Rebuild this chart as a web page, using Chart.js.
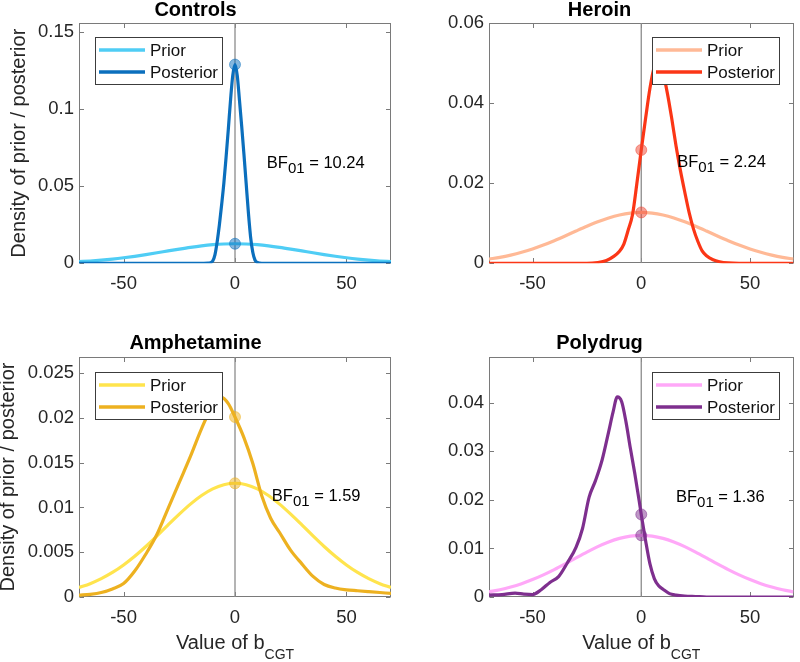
<!DOCTYPE html>
<html>
<head>
<meta charset="utf-8">
<script src="https://cdn.jsdelivr.net/npm/chart.js@4.4.0/dist/chart.umd.min.js"></script>
<style>
  body { margin: 0; background: #fff; }
  #fig { position: relative; width: 800px; height: 662px; overflow: hidden; }
  .panel { position: absolute; width: 400px; height: 331px; }
</style>
</head>
<body>
<div id="fig">
  <div class="panel" style="left:0;top:0"><canvas id="c0" width="400" height="331"></canvas></div>
  <div class="panel" style="left:400px;top:0"><canvas id="c1" width="400" height="331"></canvas></div>
  <div class="panel" style="left:0;top:331px"><canvas id="c2" width="400" height="331"></canvas></div>
  <div class="panel" style="left:400px;top:331px"><canvas id="c3" width="400" height="331"></canvas></div>
</div>
<script>
// ---- data ----
const titles = ['Controls', 'Heroin', 'Amphetamine', 'Polydrug'];
const bfValues = ['10.24', '2.24', '1.59', '1.36'];
const xTicks = [-50, 0, 50];
const yMax = [0.156, 0.06, 0.0268, 0.0494];
const yTicks = [
  [0, 0.05, 0.1, 0.15],
  [0, 0.02, 0.04, 0.06],
  [0, 0.005, 0.01, 0.015, 0.02, 0.025],
  [0, 0.01, 0.02, 0.03, 0.04]
];

// prior is the same in every panel
const priorX = [-70, -65, -60, -55, -50, -45, -40, -35, -30, -25, -20, -15, -10, -5, 0,
                5, 10, 15, 20, 25, 30, 35, 40, 45, 50, 55, 60, 65, 70];
const priorY = [0.00106, 0.00149, 0.00205, 0.00274, 0.00358, 0.00455, 0.00564, 0.00682, 0.00805,
                0.00925, 0.01037, 0.01133, 0.01207, 0.01254, 0.0127,
                0.01254, 0.01207, 0.01133, 0.01037, 0.00925, 0.00805, 0.00682, 0.00564, 0.00455,
                0.00358, 0.00274, 0.00205, 0.00149, 0.00106];

const controlsPostX = [-70, -14, -12, -11, -10, -9, -8, -7, -6, -5, -4, -3, -2, -1, 0,
                       1, 2, 3, 4, 5, 6, 7, 8, 9, 10, 11, 12, 14, 70];
const controlsPostY = [0, 0, 0.0001, 0.0004, 0.0015, 0.0055, 0.014, 0.025, 0.038, 0.052, 0.069, 0.087, 0.106, 0.122, 0.129,
                       0.122, 0.106, 0.089, 0.071, 0.052, 0.033, 0.017, 0.007, 0.002, 0.0006, 0.0001, 0, 0, 0];

const heroinPostX = [-70, -25, -20, -16, -13, -10, -8, -6, -4, -2, 0, 2, 4, 6, 8, 10, 12, 14, 16, 18,
                     20, 22, 24, 26, 28, 30, 33, 36, 40, 45, 70];
const heroinPostY = [0, 0, 0.0002, 0.0007, 0.0016, 0.003, 0.0048, 0.0083, 0.0122, 0.020, 0.0283, 0.0362,
                     0.0437, 0.049, 0.050, 0.0475, 0.0425, 0.0362, 0.0293, 0.0232, 0.0178, 0.0127, 0.0086,
                     0.0055, 0.0031, 0.0019, 0.0009, 0.0004, 0.0001, 0, 0];

const amphPostX = [-70, -65, -60, -55, -50, -45, -40, -35, -30, -25, -20, -15, -10, -6, -3, 0,
                   4, 8, 12, 16, 20, 25, 30, 35, 40, 45, 50, 55, 60, 65, 70];
const amphPostY = [0.0002, 0.0003, 0.0005, 0.0009, 0.0015, 0.0029, 0.0048, 0.007, 0.0099, 0.0128, 0.0157,
                   0.0188, 0.0214, 0.0223, 0.0216, 0.0201, 0.0178, 0.0149, 0.0113, 0.0088, 0.0072, 0.0052,
                   0.0037, 0.0023, 0.0014, 0.0010, 0.0008, 0.0007, 0.0006, 0.0005, 0.0004];

const polyPostX = [-70, -64, -58, -54, -50, -46, -42, -38, -34, -30, -27, -24, -21, -18, -15, -13, -11,
                   -9, -7, -5, -3, -1, 0, 2, 4, 6, 8, 10, 13, 16, 20, 25, 30, 35, 40, 70];
const polyPostY = [0.0004, 0.0005, 0.0008, 0.0006, 0.0005, 0.0015, 0.003, 0.0042, 0.007, 0.0102, 0.0141,
                   0.0205, 0.024, 0.0282, 0.034, 0.0380, 0.0412, 0.0402, 0.036, 0.0306, 0.0255, 0.0199,
                   0.017, 0.0116, 0.0068, 0.0038, 0.0023, 0.0016, 0.0007, 0.0004, 0.0002, 0.0001, 0, 0, 0, 0];

// density at zero: [prior, posterior]
const controlsMarks = [0.0127, 0.129];
const heroinMarks = [0.0127, 0.0283];
const amphMarks = [0.0127, 0.0201];
const polyMarks = [0.0127, 0.017];

// ---- styling / layout ----
const FONT = "'Liberation Sans', Arial, Helvetica, sans-serif";
const AXIS = '#7a7a7a';
const TXT = '#262626';
Chart.defaults.font.family = FONT;

const panels = [
  { postX: controlsPostX, postY: controlsPostY, marks: controlsMarks,
    prior: '#4fcdf5', post: '#0b6fbd', mark: 'rgba(11,111,189,0.5)',
    yW: 79, padR: 9, xH: 67.7, top: true, legend: 'left', bf: [0.602, 0.605], yTitle: true },
  { postX: heroinPostX, postY: heroinPostY, marks: heroinMarks,
    prior: '#ffb996', post: '#fb3616', mark: 'rgba(240,70,50,0.5)',
    yW: 89, padR: 1, xH: 67.7, top: true, legend: 'right', bf: [0.618, 0.598], yTitle: false },
  { postX: amphPostX, postY: amphPostY, marks: amphMarks,
    prior: '#ffe44d', post: '#edb120', mark: 'rgba(237,177,32,0.5)',
    yW: 79, padR: 9, xH: 65, top: false, legend: 'left', bf: [0.618, 0.600], yTitle: true },
  { postX: polyPostX, postY: polyPostY, marks: polyMarks,
    prior: '#ffa8f8', post: '#7e2f8e', mark: 'rgba(126,47,142,0.5)',
    yW: 89, padR: 1, xH: 65, top: false, legend: 'right', bf: [0.614, 0.604], yTitle: false }
];

function pts(xs, ys) { return xs.map((x, i) => ({ x: x, y: ys[i] })); }

const decor = {
  id: 'decor',
  beforeDatasetsDraw(chart, args, o) {
    const { ctx, chartArea: a, scales: { x, y } } = chart;
    const L = Math.round(a.left) + 0.5, R = Math.round(a.right) - 0.5;
    const T = Math.round(a.top) + 0.5, B = Math.round(a.bottom) - 0.5;
    ctx.save();
    ctx.strokeStyle = AXIS;
    ctx.lineWidth = 1;
    ctx.strokeRect(L, T, R - L, B - T);
    ctx.beginPath();
    const tl = 4.5;
    x.ticks.forEach(t => {
      const p = Math.round(x.getPixelForValue(t.value)) + 0.5;
      ctx.moveTo(p, B); ctx.lineTo(p, B - tl);
      ctx.moveTo(p, T); ctx.lineTo(p, T + tl);
    });
    y.ticks.forEach(t => {
      const p = Math.round(y.getPixelForValue(t.value)) + 0.5;
      ctx.moveTo(L, p); ctx.lineTo(L + tl, p);
      ctx.moveTo(R, p); ctx.lineTo(R - tl, p);
    });
    ctx.stroke();
    ctx.restore();
  },
  afterDatasetsDraw(chart, args, o) {
    const { ctx, chartArea: a } = chart;
    ctx.save();
    // legend box
    const bw = 127, bh = 47;
    const bx = Math.round(o.legend === 'left' ? a.left + 16 : a.right - 15 - bw);
    const by = Math.round(a.top + (o.top ? 14 : 15));
    ctx.fillStyle = '#fff';
    ctx.fillRect(bx, by, bw, bh);
    ctx.strokeStyle = '#3c3c3c';
    ctx.lineWidth = 1;
    ctx.strokeRect(bx + 0.5, by + 0.5, bw, bh);
    [['Prior', o.prior, 13], ['Posterior', o.post, 35]].forEach(r => {
      ctx.strokeStyle = r[1];
      ctx.lineWidth = 3.5;
      ctx.beginPath();
      ctx.moveTo(bx + 4, by + r[2]);
      ctx.lineTo(bx + 50, by + r[2]);
      ctx.stroke();
      ctx.fillStyle = '#111';
      ctx.font = '17px ' + FONT;
      ctx.textBaseline = 'middle';
      ctx.textAlign = 'left';
      ctx.fillText(r[0], bx + 55, by + r[2] + 1);
    });
    // Bayes factor annotation
    const tx = a.left + o.bf[0] * (a.right - a.left);
    const ty = a.top + o.bf[1] * (a.bottom - a.top);
    ctx.fillStyle = '#000';
    ctx.textBaseline = 'alphabetic';
    ctx.font = '16.5px ' + FONT;
    ctx.fillText('BF', tx, ty);
    let w = ctx.measureText('BF').width;
    ctx.font = '15px ' + FONT;
    ctx.fillText('01', tx + w, ty + 5);
    w += ctx.measureText('01').width;
    ctx.font = '16.5px ' + FONT;
    ctx.fillText(' = ' + o.bfText, tx + w, ty);
    ctx.restore();
  },
  afterDraw(chart, args, o) {
    if (o.top) return;
    const { ctx, chartArea: a } = chart;
    ctx.save();
    ctx.fillStyle = TXT;
    ctx.textBaseline = 'alphabetic';
    ctx.textAlign = 'left';
    ctx.font = '20px ' + FONT;
    const main = 'Value of b';
    const wm = ctx.measureText(main).width;
    ctx.font = '14px ' + FONT;
    const ws = ctx.measureText('CGT').width;
    const x0 = (a.left + a.right) / 2 - (wm + ws) / 2;
    ctx.font = '20px ' + FONT;
    ctx.fillText(main, x0, 318);
    ctx.font = '14px ' + FONT;
    ctx.fillText('CGT', x0 + wm, 328);
    ctx.restore();
  }
};

panels.forEach((p, i) => {
  const datasets = [
    { data: pts(p.marks.map(() => 0), p.marks), showLine: false, pointRadius: 5.5,
      pointBackgroundColor: p.mark, pointBorderColor: p.mark, pointBorderWidth: 1, order: 0 },
    { data: pts(p.postX, p.postY), borderColor: p.post, borderWidth: 3.2, pointRadius: 0,
      cubicInterpolationMode: 'monotone', order: 1 },
    { data: pts(priorX, priorY), borderColor: p.prior, borderWidth: 3.2, pointRadius: 0,
      cubicInterpolationMode: 'monotone', order: 2 },
    { data: [{ x: 0, y: 0 }, { x: 0, y: yMax[i] }], borderColor: '#8c8c8c', borderWidth: 1.3,
      pointRadius: 0, order: 3 }
  ];
  new Chart(document.getElementById('c' + i), {
    type: 'line',
    data: { datasets: datasets },
    options: {
      responsive: false,
      animation: false,
      events: [],
      layout: { padding: { left: 0, right: p.padR, top: 0, bottom: 0 } },
      scales: {
        x: {
          type: 'linear', min: -70, max: 70,
          afterBuildTicks: s => { s.ticks = xTicks.map(v => ({ value: v })); },
          afterFit: s => { s.height = p.xH; },
          grid: { display: false, drawTicks: false },
          border: { display: false },
          ticks: { font: { size: 18.5 }, color: TXT, padding: 10, maxRotation: 0, autoSkip: false,
                   callback: v => String(v) }
        },
        y: {
          type: 'linear', min: 0, max: yMax[i],
          afterBuildTicks: s => { s.ticks = yTicks[i].map(v => ({ value: v })); },
          afterFit: s => { s.width = p.yW; },
          grid: { display: false, drawTicks: false },
          border: { display: false },
          ticks: { font: { size: 18.5 }, color: TXT, padding: 5, autoSkip: false,
                   callback: v => String(v) },
          title: { display: p.yTitle, text: 'Density of prior / posterior', color: TXT,
                   font: { size: 20, lineHeight: 0.8 },
                   padding: p.top ? { top: 11.2, bottom: 0 } : { top: 0.8, bottom: 0 } }
        }
      },
      plugins: {
        legend: { display: false },
        tooltip: { enabled: false },
        title: {
          display: true, text: titles[i], color: '#000',
          font: { size: 20, weight: 'bold', lineHeight: 1 },
          padding: p.top ? { top: 0, bottom: 3 } : { top: 2, bottom: 4 }
        },
        decor: { legend: p.legend, prior: p.prior, post: p.post, bf: p.bf,
                 bfText: bfValues[i], top: p.top }
      }
    },
    plugins: [decor]
  });
});
</script>
</body>
</html>
